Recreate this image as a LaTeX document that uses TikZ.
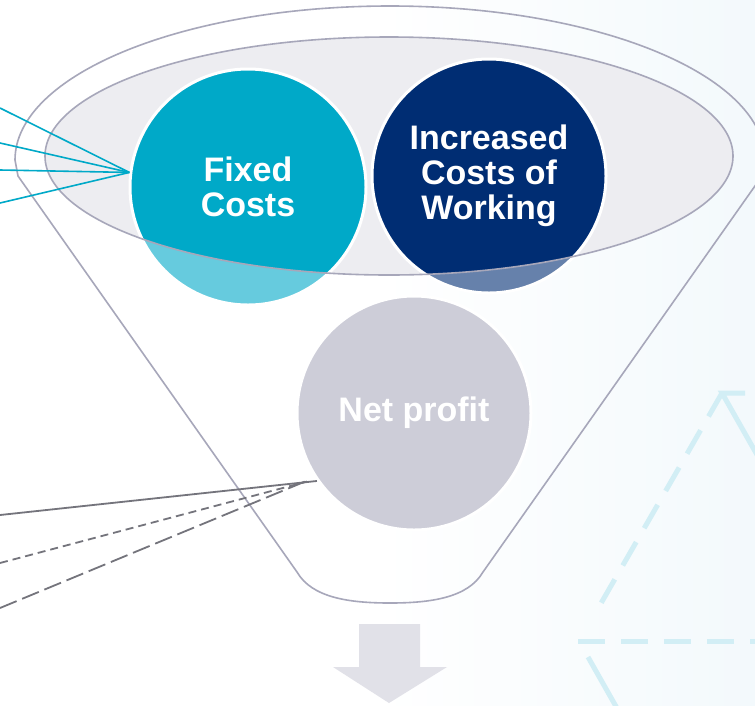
\documentclass[tikz,border=0pt]{standalone}
\usepackage{fontspec}
\setmainfont{Liberation Sans}
\usepackage{xcolor}
\definecolor{fixcyan}{HTML}{00A9C8}
\definecolor{worknavy}{HTML}{002D73}
\definecolor{netgray}{HTML}{CDCDD8}
\definecolor{funnelline}{HTML}{A7A7BA}
\definecolor{ellfill}{HTML}{EDEDF1}
\definecolor{arrowgray}{HTML}{E1E1E8}
\definecolor{lossgray}{HTML}{74747C}
\definecolor{decoblue}{HTML}{D2EEF5}
\definecolor{bgblue}{HTML}{F3F9FC}
\usetikzlibrary{positioning}

\begin{document}
\begin{tikzpicture}[
  x=1pt, y=-1pt,
  bubble/.style={circle, minimum size=234, inner sep=0pt, draw=white, line width=3pt, text=white, align=center, font=\fontsize{34}{35}\selectfont\bfseries},
  funnel/.style={draw=funnelline, line width=1.6pt},
  feed/.style={fixcyan, line width=1.6pt},
  loss/.style={lossgray, line width=1.8pt},
  deco/.style={decoblue, line width=5pt},
]
\useasboundingbox (0,0) rectangle (755,705);

% Background
\fill[white] (0,0) rectangle (755,705);
\shade[left color=white, right color=bgblue] (380,0) rectangle (755,705);
\draw[deco, dash pattern=on 27pt off 16pt] (722,393) -- (600,605);
\draw[deco] (745,393) -- (722,393) -- (760,460);
\draw[deco, dash pattern=on 27pt off 16pt] (578,641) -- (760,641);
\draw[deco] (588,657) -- (618,710);

% Funnel
\draw[funnel] (15,160) arc[start angle=180, end angle=360, x radius=375, y radius=154];
\draw[funnel] (15,160) -- (18,176) -- (297,572)
  .. controls (312,598) and (350,603) .. (390,603)
  .. controls (430,603) and (468,598) .. (483,572) -- (762,176) -- (765,160);
\fill[ellfill] (389,156) ellipse [x radius=344, y radius=119];

% Inputs
\coordinate (in1) at (0,108);
\coordinate (in2) at (0,143);
\coordinate (in3) at (0,170);
\coordinate (in4) at (0,203);
\coordinate (out1) at (0,515);
\coordinate (out2) at (0,563);
\coordinate (out3) at (0,608);

\node[bubble, fill=fixcyan, minimum size=236] (fixed) at (248,187) {Fixed\\Costs};
\node[bubble, fill=worknavy] (working) at (489,176) {Increased\\Costs of\\Working};
\node[bubble, fill=netgray] (net) at (414,413) {Net profit};

% Lower parts of the top circles, outside the ellipse
\begin{scope}
  \clip (248,187) circle (119.5) (489,176) circle (118.5);
  \fill[white, opacity=0.4, even odd rule] (0,0) rectangle (755,705)
    (389,156) ellipse [x radius=344, y radius=119];
\end{scope}
\draw[funnel] (389,156) ellipse [x radius=344, y radius=119];

\foreach \i in {1,...,4}
  \draw[feed] (in\i) -- (fixed.173);

\draw[loss] (out1) -- (net.215);
\draw[loss, dash pattern=on 8pt off 5pt, shorten >=9pt] (out2) -- (net.214);
\draw[loss, dash pattern=on 18pt off 6pt, shorten >=9pt] (out3) -- (net.213);

% Down arrow
\fill[arrowgray] (359,624) -- (420,624) -- (420,667) -- (447,667) -- (389,703)
  -- (333,667) -- (359,667) -- cycle;

\end{tikzpicture}
\end{document}
